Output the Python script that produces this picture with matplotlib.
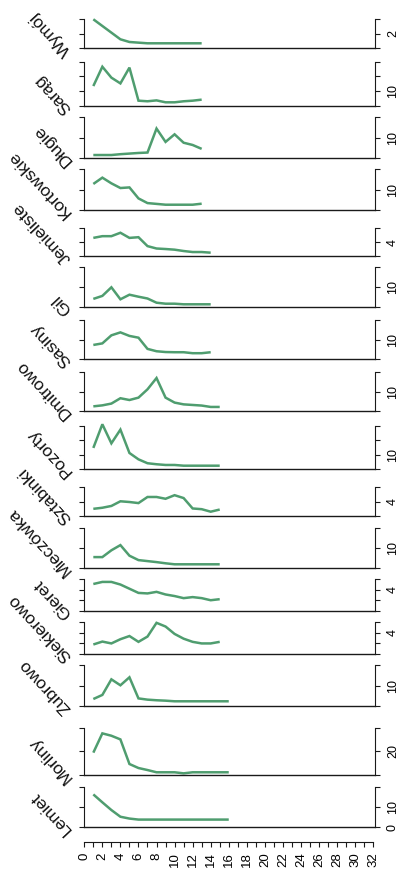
import matplotlib
matplotlib.use("Agg")
import matplotlib.pyplot as plt

plt.rcParams['font.family'] = ['Liberation Sans', 'DejaVu Sans']

# ---------------- data ----------------
lakes = ["Wymój", "Sarąg", "Długie", "Kortowskie", "Jemieliste", "Gil", "Sasiny",
         "Dmitrowo", "Pozorty", "Sztabinki", "Mieczówka", "Gieret", "Siekierowo",
         "Zubrowo", "Morliny", "Lemiet"]
depths = [1, 2, 3, 4, 5, 6, 7, 8, 9, 10, 11, 12, 13, 14, 15, 16]

wymoj = [4.0, 3.08, 2.16, 1.24, 0.87, 0.78, 0.69, 0.69, 0.69, 0.69, 0.69, 0.69, 0.69]
sarag = [13.5, 26.6, 19.2, 15.3, 26.0, 3.6, 3.2, 3.8, 2.5, 2.5, 3.2, 3.6, 4.3]
dlugie = [1.6, 1.6, 1.6, 2.0, 2.3, 2.6, 2.8, 14.5, 8.0, 11.7, 7.6, 6.5, 4.6]
kortowskie = [12.8, 15.9, 13.1, 10.8, 11.1, 5.7, 3.4, 3.0, 2.6, 2.6, 2.6, 2.6, 3.1]
jemieliste = [5.2, 5.7, 5.7, 6.7, 5.2, 5.4, 2.8, 2.1, 1.95, 1.76, 1.37, 1.07, 1.07, 0.88]
gil = [4.2, 5.7, 10.0, 4.0, 6.3, 5.3, 4.4, 2.3, 1.8, 1.8, 1.5, 1.5, 1.5, 1.5]
sasiny = [7.3, 8.1, 12.2, 13.7, 11.9, 11.0, 5.3, 4.1, 3.7, 3.6, 3.6, 3.1, 3.1, 3.6]
dmitrowo = [2.5, 3.0, 3.9, 6.6, 5.7, 6.9, 11.1, 16.8, 6.9, 4.4, 3.5, 3.2, 2.9, 2.2, 2.2]
pozorty = [14.8, 31.2, 18.0, 27.5, 11.3, 6.9, 4.2, 3.5, 3.0, 3.0, 2.5, 2.5, 2.5, 2.5, 2.5]
sztabinki = [2.0, 2.3, 2.8, 4.1, 3.9, 3.6, 5.3, 5.3, 4.8, 5.8, 5.0, 2.1, 1.9, 1.2, 1.8]
mieczowka = [5.3, 5.3, 8.7, 11.3, 6.0, 3.8, 3.3, 2.8, 2.2, 1.7, 1.7, 1.7, 1.7, 1.7, 1.7]
gieret = [5.1, 5.5, 5.5, 5.0, 4.2, 3.4, 3.3, 3.6, 3.1, 2.8, 2.4, 2.6, 2.4, 2.0, 2.2]
siekierowo = [1.8, 2.35, 2.0, 2.8, 3.4, 2.3, 3.3, 5.9, 5.2, 3.8, 2.9, 2.3, 2.0, 2.0, 2.3]
zubrowo = [3.4, 5.4, 13.0, 10.1, 14.0, 3.7, 3.1, 2.8, 2.6, 2.3, 2.3, 2.3, 2.3, 2.3, 2.3, 2.3]
morliny = [18.9, 35.2, 33.2, 30.1, 9.3, 5.9, 4.2, 2.3, 2.3, 2.3, 1.4, 2.3, 2.3, 2.3, 2.3, 2.3]
lemiet = [16.2, 12.3, 8.5, 5.2, 4.3, 3.8, 3.8, 3.8, 3.8, 3.8, 3.8, 3.8, 3.8, 3.8, 3.8, 3.8]

series = [wymoj, sarag, dlugie, kortowskie, jemieliste, gil, sasiny, dmitrowo,
          pozorty, sztabinki, mieczowka, gieret, siekierowo, zubrowo, morliny, lemiet]

y_ticks = [[0, 2, 4], [0, 10, 20, 30], [0, 10, 20], [0, 10, 20], [0, 4, 8],
           [0, 10, 20], [0, 10, 20], [0, 10, 20], [0, 10, 20, 30], [0, 4, 8],
           [0, 10, 20], [0, 2, 4, 6], [0, 2, 4, 6], [0, 10, 20], [0, 20, 40],
           [0, 10, 20]]
y_labels_shown = [[2], [10], [10], [10], [4], [10], [10], [10], [10], [4],
                  [10], [4], [4], [10], [20], [0, 10]]

x_ticks = list(range(0, 33))
x_ticklabels = [str(v) if v % 2 == 0 else "" for v in x_ticks]

# ---------------- layout (pixels) ----------------
W, H = 404, 871
panel_bottom = [48.3, 106, 158.3, 210, 255.7, 307.3, 359.3, 411.3, 469.3, 516,
                567.7, 610.7, 654, 706, 775, 827.3]
panel_top = [19.3, 61.7, 117.3, 169.3, 228.3, 267.3, 320, 371.7, 426, 487.3,
             527.7, 579.3, 622.3, 665, 727.7, 786.7]
left_px, right_px = 84.3, 375.0
xaxis_px = 842

GREEN = "#4f9d6f"
AXC = "#1a1a1a"

fig = plt.figure(figsize=(W / 100, H / 100), dpi=100)
fig.patch.set_facecolor("white")

for name, vals, ticks, shown, bot, top in zip(lakes, series, y_ticks, y_labels_shown,
                                               panel_bottom, panel_top):
    ax = fig.add_axes([left_px / W, 1 - bot / H, (right_px - left_px) / W, (bot - top) / H])
    ax.set_facecolor("none")
    ax.set_xlim(0, 32.2)
    ax.set_ylim(ticks[0], ticks[-1])
    ax.plot(depths[:len(vals)], vals, color=GREEN, lw=1.8, clip_on=False,
            solid_joinstyle="miter", solid_capstyle="butt")
    ax.spines["top"].set_visible(False)
    for s in ("left", "right"):
        ax.spines[s].set_bounds(ticks[0], ticks[-1])
        ax.spines[s].set_color(AXC)
        ax.spines[s].set_linewidth(0.8)
    ax.spines["bottom"].set_color(AXC)
    ax.spines["bottom"].set_linewidth(1.0)
    ax.set_xticks([])
    ax.set_yticks(ticks)
    ax.set_yticklabels([str(t) if t in shown else "" for t in ticks])
    ax.yaxis.set_ticks_position("both")
    ax.tick_params(axis="y", direction="out", length=3.6, width=0.8, color=AXC,
                   labelleft=False, labelright=True, labelsize=9, pad=5)
    for lab in ax.get_yticklabels():
        lab.set_rotation(90)
        lab.set_va("center")
    fig.text(72 / W, 1 - (bot + 2) / H, name, rotation=133, rotation_mode="anchor",
             ha="left", va="baseline", fontsize=12.5, color="#111111")

# shared bottom x axis
axx = fig.add_axes([left_px / W, 1 - xaxis_px / H, (right_px - left_px) / W, 0.0001])
axx.set_facecolor("none")
axx.set_xlim(0, 32.2)
axx.set_yticks([])
for s in ("top", "left", "right"):
    axx.spines[s].set_visible(False)
axx.spines["bottom"].set_bounds(0, 32)
axx.spines["bottom"].set_color(AXC)
axx.spines["bottom"].set_linewidth(0.8)
axx.set_xticks(x_ticks)
axx.set_xticklabels(x_ticklabels, rotation=90)
axx.tick_params(axis="x", direction="out", length=3.4, width=0.8, color=AXC,
                labelsize=9.5, pad=4)

fig.savefig("out.png", dpi=100)
